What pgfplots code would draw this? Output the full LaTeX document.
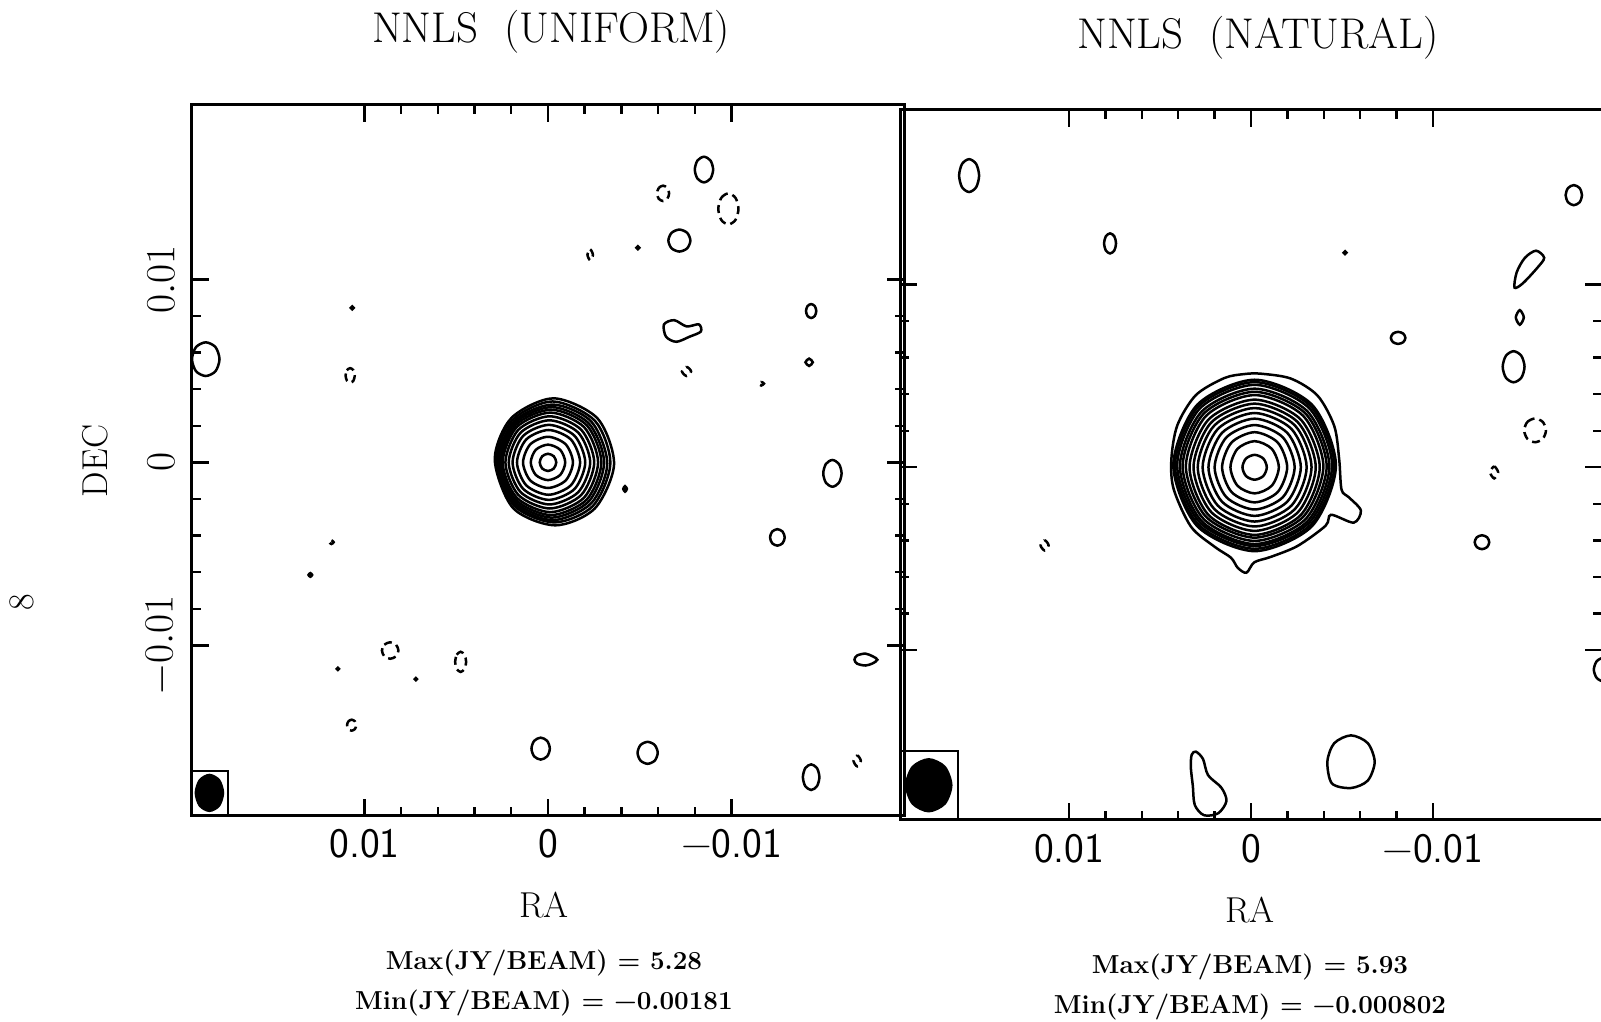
\documentclass[border=0pt]{standalone}
\usepackage{pgfplots}
\pgfplotsset{compat=1.18}

% contour styles: solid = positive levels, dashed = negative levels
\pgfplotsset{
  ct/.style={black, line width=1.25pt, smooth cycle},
  dc/.style={ct, dash pattern=on 4pt off 2.5pt},
  dot/.style={ct, fill=black},
  map/.style={
    scale only axis,
    x dir=reverse,
    xtick={-10,0,10}, ytick={-10,0,10},
    minor tick num=4,
    xtick pos=both, ytick pos=both,
    tick align=inside,
    major tick length=8.5pt, minor tick length=4.5pt,
    tick style={black, line width=1.2pt},
    axis line style={line width=1.5pt},
    xticklabels={\textminus0.01,0,0.01},
    xticklabel style={font=\sffamily\fontsize{21}{24}\selectfont, yshift=-3.5pt},
    yticklabels={},
  },
}

\begin{document}
\begin{tikzpicture}

% ---------------- NNLS (UNIFORM) ----------------
\begin{axis}[map,
  at={(96pt,103.2pt)}, anchor=south west,
  width=356pt, height=355.5pt,
  xmin=-19.4, xmax=19.4, ymin=-19.3, ymax=19.55,
]
% central source (units of 1e-3)
\addplot[ct] coordinates {(0.45,0) (0.318,0.332) (0,0.47) (-0.318,0.332) (-0.45,0) (-0.318,-0.332) (0,-0.47) (0.318,-0.332)};
\addplot[ct] coordinates {(0.94,0) (0.665,0.686) (0,0.97) (-0.665,0.686) (-0.94,0) (-0.665,-0.686) (0,-0.97) (0.665,-0.686)};
\addplot[ct] coordinates {(1.36,0) (0.962,0.99) (0,1.4) (-0.962,0.99) (-1.36,0) (-0.962,-0.99) (0,-1.4) (0.962,-0.99)};
\addplot[ct] coordinates {(1.69,0) (1.186,1.252) (-0.03,1.77) (-1.246,1.252) (-1.75,0) (-1.246,-1.252) (-0.03,-1.77) (1.186,-1.252)};
\addplot[ct] coordinates {(1.93,0) (1.35,1.45) (-0.05,2.05) (-1.45,1.45) (-2.03,0) (-1.45,-1.45) (-0.05,-2.05) (1.35,-1.45)};
\addplot[ct] coordinates {(2.14,0) (1.49,1.626) (-0.08,2.3) (-1.65,1.626) (-2.3,0) (-1.65,-1.626) (-0.08,-2.3) (1.49,-1.626)};
\addplot[ct] coordinates {(2.32,0) (1.611,1.782) (-0.1,2.52) (-1.811,1.782) (-2.52,0) (-1.811,-1.782) (-0.1,-2.52) (1.611,-1.782)};
\addplot[ct] coordinates {(2.47,0) (1.708,1.923) (-0.13,2.72) (-1.968,1.923) (-2.73,0) (-1.968,-1.923) (-0.13,-2.72) (1.708,-1.923)};
\addplot[ct] coordinates {(2.57,0) (1.767,2.036) (-0.17,2.88) (-2.107,2.036) (-2.91,0) (-2.107,-2.036) (-0.17,-2.88) (1.767,-2.036)};
\addplot[ct] coordinates {(2.66,0) (1.822,2.135) (-0.2,3.02) (-2.222,2.135) (-3.06,0) (-2.222,-2.135) (-0.2,-3.02) (1.822,-2.135)};
\addplot[ct] coordinates {(2.73,0.05) (1.857,2.234) (-0.25,3.16) (-2.357,2.234) (-3.23,-0.05) (-2.357,-2.234) (-0.25,-3.16) (1.857,-2.234)};
\addplot[ct] coordinates {(2.8,0.1) (1.95,2.3) (-0.25,3.33) (-2.55,2.28) (-3.4,-0.05) (-2.45,-2.38) (-0.35,-3.28) (1.85,-2.36)};
\addplot[ct] coordinates {(2.9,0.15) (2.0,2.42) (-0.3,3.5) (-2.7,2.4) (-3.6,-0.1) (-2.55,-2.52) (-0.4,-3.44) (1.9,-2.5)};
% noise contours
\addplot[ct] coordinates {(-8.0,16.0) (-8.146,16.495) (-8.5,16.7) (-8.854,16.495) (-9.0,16.0) (-8.854,15.505) (-8.5,15.3) (-8.146,15.505)};
\addplot[dc] coordinates {(-5.94,14.7) (-6.037,14.997) (-6.27,15.12) (-6.503,14.997) (-6.6,14.7) (-6.503,14.403) (-6.27,14.28) (-6.037,14.403)};
\addplot[dc] coordinates {(-9.28,13.85) (-9.441,14.451) (-9.83,14.7) (-10.219,14.451) (-10.38,13.85) (-10.219,13.249) (-9.83,13.0) (-9.441,13.249)};
\addplot[ct] coordinates {(-6.56,12.12) (-6.736,12.544) (-7.16,12.72) (-7.584,12.544) (-7.76,12.12) (-7.584,11.696) (-7.16,11.52) (-6.736,11.696)};
\addplot[dc] coordinates {(-2.15,11.34) (-2.3,11.64) (-2.45,11.34) (-2.3,11.04)};
\addplot[dot] coordinates {(-4.82,11.73) (-4.9,11.81) (-4.98,11.73) (-4.9,11.65)};
\addplot[dot] coordinates {(10.75,8.44) (10.67,8.52) (10.59,8.44) (10.67,8.36)};
\addplot[ct] coordinates {(-14.06,8.27) (-14.142,8.539) (-14.34,8.65) (-14.538,8.539) (-14.62,8.27) (-14.538,8.001) (-14.34,7.89) (-14.142,8.001)};
\addplot[ct] coordinates {(-6.32,7.54) (-6.88,7.77) (-7.55,7.43) (-8.22,7.54) (-8.33,7.15) (-7.72,6.87) (-6.99,6.59) (-6.43,6.87)};
\addplot[ct] coordinates {(19.4,5.64) (19.18,6.3) (18.65,6.56) (18.12,6.3) (17.9,5.64) (18.12,4.98) (18.65,4.72) (19.18,4.98)};
\addplot[dc] coordinates {(11.03,4.75) (10.957,5.033) (10.78,5.15) (10.603,5.033) (10.53,4.75) (10.603,4.467) (10.78,4.35) (10.957,4.467)};
\addplot[dc] coordinates {(-7.3,4.97) (-7.55,5.22) (-7.8,4.97) (-7.55,4.72)};
\addplot[ct] coordinates {(-14.03,5.47) (-14.23,5.67) (-14.43,5.47) (-14.23,5.27)};
\addplot[dc] coordinates {(-11.47,4.3) (-11.62,4.4) (-11.77,4.3) (-11.62,4.2)};
\addplot[dot] coordinates {(-4.1,-1.45) (-4.2,-1.3) (-4.3,-1.45) (-4.2,-1.6)};
\addplot[ct] coordinates {(-15.0,-0.6) (-15.146,-0.084) (-15.5,0.13) (-15.854,-0.084) (-16.0,-0.6) (-15.854,-1.116) (-15.5,-1.33) (-15.146,-1.116)};
\addplot[ct] coordinates {(-12.1,-4.1) (-12.217,-3.782) (-12.5,-3.65) (-12.783,-3.782) (-12.9,-4.1) (-12.783,-4.418) (-12.5,-4.55) (-12.217,-4.418)};
\addplot[dc] coordinates {(11.92,-4.36) (11.8,-4.26) (11.68,-4.36) (11.8,-4.46)};
\addplot[dot] coordinates {(13.05,-6.15) (12.95,-6.05) (12.85,-6.15) (12.95,-6.25)};
\addplot[dc] coordinates {(9.05,-10.28) (8.918,-9.962) (8.6,-9.83) (8.282,-9.962) (8.15,-10.28) (8.282,-10.598) (8.6,-10.73) (8.918,-10.598)};
\addplot[dc] coordinates {(5.06,-10.9) (4.972,-10.511) (4.76,-10.35) (4.548,-10.511) (4.46,-10.9) (4.548,-11.289) (4.76,-11.45) (4.972,-11.289)};
\addplot[dot] coordinates {(11.51,-11.28) (11.45,-11.22) (11.39,-11.28) (11.45,-11.34)};
\addplot[dot] coordinates {(7.26,-11.84) (7.2,-11.78) (7.14,-11.84) (7.2,-11.9)};
\addplot[ct] coordinates {(-16.7,-10.78) (-16.85,-10.55) (-17.3,-10.45) (-17.7,-10.6) (-17.95,-10.78) (-17.7,-10.98) (-17.3,-11.1) (-16.85,-11.0)};
\addplot[dc] coordinates {(10.95,-14.36) (10.877,-14.148) (10.7,-14.06) (10.523,-14.148) (10.45,-14.36) (10.523,-14.572) (10.7,-14.66) (10.877,-14.572)};
\addplot[ct] coordinates {(0.9,-15.64) (0.754,-15.216) (0.4,-15.04) (0.046,-15.216) (-0.1,-15.64) (0.046,-16.064) (0.4,-16.24) (0.754,-16.064)};
\addplot[ct] coordinates {(-4.88,-15.87) (-5.041,-15.446) (-5.43,-15.27) (-5.819,-15.446) (-5.98,-15.87) (-5.819,-16.294) (-5.43,-16.47) (-5.041,-16.294)};
\addplot[ct] coordinates {(-13.89,-17.2) (-14.022,-16.705) (-14.34,-16.5) (-14.658,-16.705) (-14.79,-17.2) (-14.658,-17.695) (-14.34,-17.9) (-14.022,-17.695)};
\addplot[dc] coordinates {(-16.65,-16.31) (-16.85,-16.01) (-17.05,-16.31) (-16.85,-16.61)};
% beam
\addplot[black, line width=1.2pt] coordinates {(17.44,-19.5) (17.44,-16.86) (19.6,-16.86)};
\addplot[dot] coordinates {(19.19,-18.06) (18.973,-17.367) (18.45,-17.08) (17.927,-17.367) (17.71,-18.06) (17.927,-18.753) (18.45,-19.04) (18.973,-18.753)};
\end{axis}

% ---------------- NNLS (NATURAL) ----------------
\begin{axis}[map,
  at={(450pt,101pt)}, anchor=south west,
  width=351pt, height=355pt,
  xmin=-19.3, xmax=19.3, ymin=-19.3, ymax=19.55,
]
\addplot[ct] coordinates {(0.47,0) (0.274,0.481) (-0.2,0.68) (-0.674,0.481) (-0.87,0) (-0.674,-0.481) (-0.2,-0.68) (0.274,-0.481)};
\addplot[ct] coordinates {(1.13,0) (0.74,1.011) (-0.2,1.43) (-1.14,1.011) (-1.53,0) (-1.14,-1.011) (-0.2,-1.43) (0.74,-1.011)};
\addplot[ct] coordinates {(1.59,0) (1.066,1.358) (-0.2,1.92) (-1.466,1.358) (-1.99,0) (-1.466,-1.358) (-0.2,-1.92) (1.066,-1.358)};
\addplot[ct] coordinates {(2.0,0) (1.356,1.633) (-0.2,2.31) (-1.756,1.633) (-2.4,0) (-1.756,-1.633) (-0.2,-2.31) (1.356,-1.633)};
\addplot[ct] coordinates {(2.34,0) (1.596,1.881) (-0.2,2.66) (-1.996,1.881) (-2.74,0) (-1.996,-1.881) (-0.2,-2.66) (1.596,-1.881)};
\addplot[ct] coordinates {(2.66,0) (1.822,2.1) (-0.2,2.97) (-2.222,2.1) (-3.06,0) (-2.222,-2.1) (-0.2,-2.97) (1.822,-2.1)};
\addplot[ct] coordinates {(2.93,0) (2.013,2.291) (-0.2,3.24) (-2.413,2.291) (-3.33,0) (-2.413,-2.291) (-0.2,-3.24) (2.013,-2.291)};
\addplot[ct] coordinates {(3.16,0) (2.176,2.461) (-0.2,3.48) (-2.576,2.461) (-3.56,0) (-2.576,-2.461) (-0.2,-3.48) (2.176,-2.461)};
\addplot[ct] coordinates {(3.38,0) (2.331,2.616) (-0.2,3.7) (-2.731,2.616) (-3.78,0) (-2.731,-2.616) (-0.2,-3.7) (2.331,-2.616)};
\addplot[ct] coordinates {(3.58,0.05) (2.473,2.808) (-0.2,3.95) (-2.873,2.808) (-3.98,0.05) (-2.873,-2.708) (-0.2,-3.85) (2.473,-2.708)};
\addplot[ct] coordinates {(3.76,0.05) (2.6,2.935) (-0.2,4.13) (-3.0,2.935) (-4.16,0.05) (-3.0,-2.835) (-0.2,-4.03) (2.6,-2.835)};
\addplot[ct] coordinates {(3.91,0.05) (2.706,3.055) (-0.2,4.3) (-3.106,3.055) (-4.31,0.05) (-3.106,-2.955) (-0.2,-4.2) (2.706,-2.955)};
\addplot[ct] coordinates {(4.06,0.1) (2.812,3.218) (-0.2,4.51) (-3.212,3.218) (-4.46,0.1) (-3.212,-3.018) (-0.2,-4.31) (2.812,-3.018)};
\addplot[ct] coordinates {(4.18,0.1) (2.897,3.324) (-0.2,4.66) (-3.297,3.324) (-4.58,0.1) (-3.297,-3.124) (-0.2,-4.46) (2.897,-3.124)};
\addplot[ct] coordinates {(4.27,0.1) (2.961,3.416) (-0.2,4.79) (-3.361,3.416) (-4.67,0.1) (-3.361,-3.216) (-0.2,-4.59) (2.961,-3.216)};
\addplot[ct] coordinates {(-0.55,5.12) (-2.2,4.85) (-3.66,3.92) (-4.58,2.25) (-4.85,0.42) (-4.98,-1.23) (-5.37,-1.63) (-6.04,-2.36) (-5.65,-3.03) (-4.4,-2.6) (-4.1,-3.2) (-2.57,-4.3) (-1.1,-4.9) (-0.18,-5.2) (0.25,-5.77) (0.73,-5.5) (1.1,-4.95) (2.0,-4.35) (3.3,-3.25) (4.25,-1.2) (4.38,0.42) (4.05,2.3) (3.03,3.95) (1.47,4.88) (0.37,5.1)};
% noise contours
\addplot[ct] coordinates {(16.05,15.96) (15.889,16.596) (15.5,16.86) (15.111,16.596) (14.95,15.96) (15.111,15.324) (15.5,15.06) (15.889,15.324)};
\addplot[ct] coordinates {(8.08,12.25) (7.983,12.639) (7.75,12.8) (7.517,12.639) (7.42,12.25) (7.517,11.861) (7.75,11.7) (7.983,11.861)};
\addplot[dot] coordinates {(-5.09,11.74) (-5.17,11.82) (-5.25,11.74) (-5.17,11.66)};
\addplot[ct] coordinates {(-17.3,14.89) (-17.432,15.279) (-17.75,15.44) (-18.068,15.279) (-18.2,14.89) (-18.068,14.501) (-17.75,14.34) (-17.432,14.501)};
\addplot[ct] coordinates {(-14.49,9.83) (-14.61,10.67) (-15.06,11.46) (-15.67,11.85) (-16.12,11.46) (-15.73,10.9) (-14.94,10.06)};
\addplot[ct] coordinates {(-14.56,8.2) (-14.78,8.6) (-15.0,8.2) (-14.78,7.8)};
\addplot[ct] coordinates {(-7.69,7.08) (-7.807,7.313) (-8.09,7.41) (-8.373,7.313) (-8.49,7.08) (-8.373,6.847) (-8.09,6.75) (-7.807,6.847)};
\addplot[ct] coordinates {(-13.84,5.5) (-14.016,6.101) (-14.44,6.35) (-14.864,6.101) (-15.04,5.5) (-14.864,4.899) (-14.44,4.65) (-14.016,4.899)};
\addplot[dc] coordinates {(-15.02,2.02) (-15.196,2.48) (-15.62,2.67) (-16.044,2.48) (-16.22,2.02) (-16.044,1.56) (-15.62,1.37) (-15.196,1.56)};
\addplot[dc] coordinates {(-13.15,-0.28) (-13.37,0.05) (-13.59,-0.28) (-13.37,-0.61)};
\addplot[ct] coordinates {(-12.3,-4.1) (-12.417,-3.831) (-12.7,-3.72) (-12.983,-3.831) (-13.1,-4.1) (-12.983,-4.369) (-12.7,-4.48) (-12.417,-4.369)};
\addplot[dc] coordinates {(11.57,-4.27) (11.35,-3.99) (11.13,-4.27) (11.35,-4.55)};
\addplot[ct] coordinates {(3.03,-15.56) (2.64,-15.96) (2.36,-16.85) (1.63,-17.53) (1.35,-18.26) (1.8,-18.93) (2.58,-19.04) (3.09,-18.48) (3.2,-17.42) (3.31,-16.4) (3.26,-15.73)};
\addplot[ct] coordinates {(-4.2,-16.1) (-4.58,-15.095) (-5.5,-14.67) (-6.42,-15.095) (-6.8,-16.12) (-6.42,-17.145) (-5.5,-17.55) (-4.45,-17.3)};
\addplot[ct] coordinates {(-18.85,-11.07) (-19.011,-10.61) (-19.4,-10.42) (-19.789,-10.61) (-19.95,-11.07) (-19.789,-11.53) (-19.4,-11.72) (-19.011,-11.53)};
% beam
\addplot[black, line width=1.2pt] coordinates {(16.1,-19.5) (16.1,-15.54) (19.5,-15.54)};
\addplot[dot] coordinates {(18.96,-17.4) (18.597,-16.396) (17.72,-15.98) (16.843,-16.396) (16.48,-17.4) (16.843,-18.404) (17.72,-18.82) (18.597,-18.404)};
\end{axis}

% DEC tick labels of the left map (0.01 -> 371pt, 0 -> 280pt, -0.01 -> 188pt)
\begin{scope}[every node/.style={rotate=90, font=\fontsize{20}{24}\selectfont}]
\node at (80.5pt,371.2pt) {$0.01$};
\node at (80.5pt,279.8pt) {$0$};
\node at (80.5pt,188.3pt) {$-0.01$};
\end{scope}

% titles and labels
\node[font=\fontsize{21.5}{24}\selectfont] at (275.5pt,495pt) {NNLS\ \ (UNIFORM)};
\node[font=\fontsize{21.5}{24}\selectfont] at (629pt,492pt) {NNLS\ \ (NATURAL)};
\node[font=\fontsize{18}{20}\selectfont] at (272pt,58.5pt) {RA};
\node[font=\fontsize{18}{20}\selectfont] at (625pt,56pt) {RA};
\node[rotate=90, font=\fontsize{18}{20}\selectfont] at (47.5pt,280.5pt) {DEC};
\node[rotate=90, font=\fontsize{18}{20}\selectfont] at (11pt,210pt) {8};
\node[font=\bfseries\fontsize{13}{15}\selectfont] at (272pt,29.5pt) {Max(JY/BEAM)\ =\ 5.28};
\node[font=\bfseries\fontsize{13}{15}\selectfont] at (272pt,9.5pt) {Min(JY/BEAM)\ =\ \textminus0.00181};
\node[font=\bfseries\fontsize{13}{15}\selectfont] at (625pt,27.5pt) {Max(JY/BEAM)\ =\ 5.93};
\node[font=\bfseries\fontsize{13}{15}\selectfont] at (625pt,7.5pt) {Min(JY/BEAM)\ =\ \textminus0.000802};

% page = the scanned sheet
\pgfresetboundingbox
\useasboundingbox (0pt,0pt) rectangle (800.5pt,511pt);
\end{tikzpicture}
\end{document}
